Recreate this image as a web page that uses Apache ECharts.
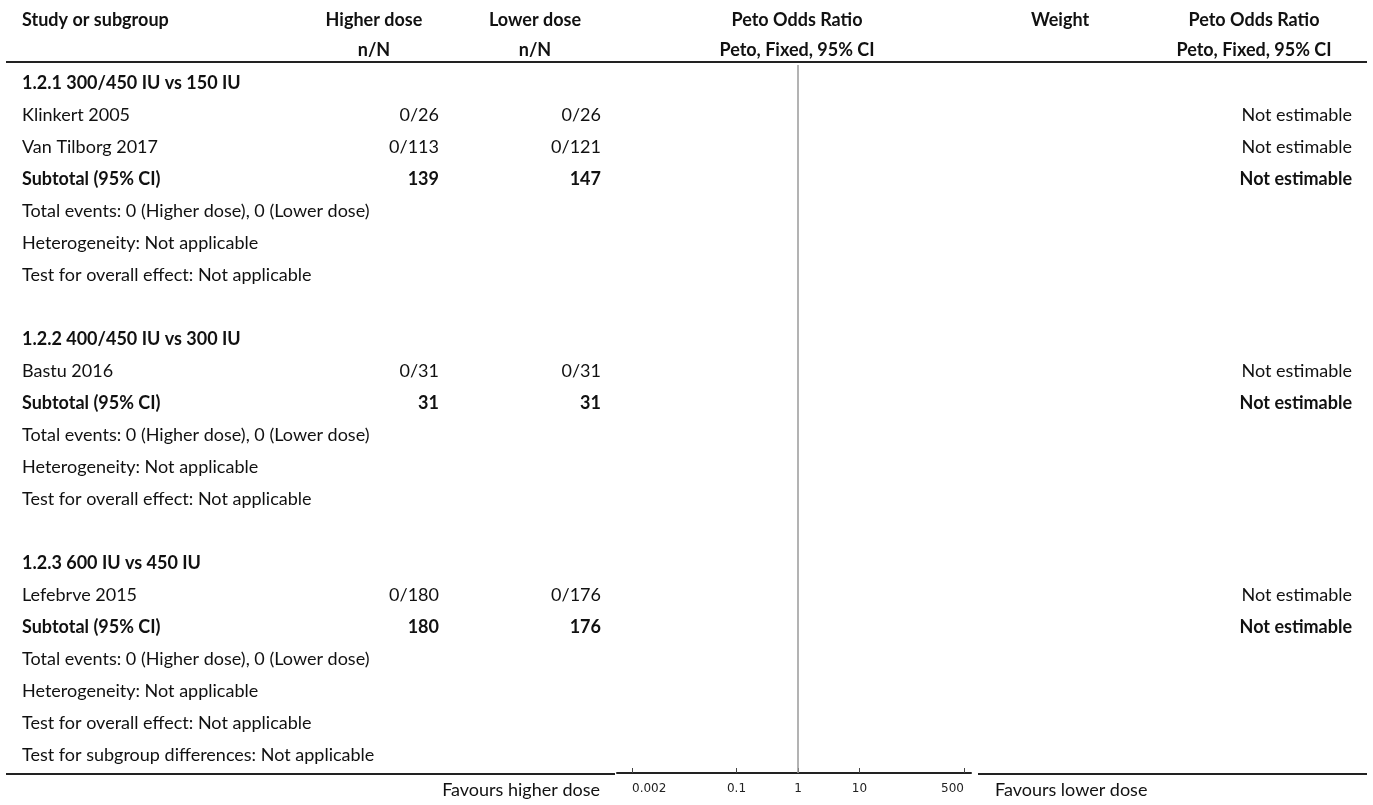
<!DOCTYPE html>
<html>
<head>
<meta charset="utf-8">
<script src="https://cdn.jsdelivr.net/npm/echarts@6/dist/echarts.min.js"></script>
<style>
html,body{margin:0;padding:0;background:#fff;}
#chart{width:1373px;height:805px;}
</style>
</head>
<body>
<div id="chart"></div>
<script>
// ---- data ----
const headerRow1 = ['Study or subgroup', 'Higher dose', 'Lower dose', 'Peto Odds Ratio', 'Weight', 'Peto Odds Ratio'];
const headerRow2 = ['', 'n/N', 'n/N', 'Peto, Fixed, 95% CI', '', 'Peto, Fixed, 95% CI'];
const rowLabels = [
  '1.2.1 300/450 IU vs 150 IU',
  'Klinkert 2005',
  'Van Tilborg 2017',
  'Subtotal (95% CI)',
  'Total events: 0 (Higher dose), 0 (Lower dose)',
  'Heterogeneity: Not applicable',
  'Test for overall effect: Not applicable',
  '',
  '1.2.2 400/450 IU vs 300 IU',
  'Bastu 2016',
  'Subtotal (95% CI)',
  'Total events: 0 (Higher dose), 0 (Lower dose)',
  'Heterogeneity: Not applicable',
  'Test for overall effect: Not applicable',
  '',
  '1.2.3 600 IU vs 450 IU',
  'Lefebrve 2015',
  'Subtotal (95% CI)',
  'Total events: 0 (Higher dose), 0 (Lower dose)',
  'Heterogeneity: Not applicable',
  'Test for overall effect: Not applicable',
  'Test for subgroup differences: Not applicable'
];
const rowBold = [1,0,0,1,0,0,0,0,1,0,1,0,0,0,0,1,0,1,0,0,0,0];
const higherDose = ['','0/26','0/113','139','','','','','','0/31','31','','','','','','0/180','180','','','',''];
const lowerDose  = ['','0/26','0/121','147','','','','','','0/31','31','','','','','','0/176','176','','','',''];
const weights    = ['','','','','','','','','','','','','','','','','','','','','',''];
const effectText = ['','Not estimable','Not estimable','Not estimable','','','','','','Not estimable','Not estimable','','','','','','Not estimable','Not estimable','','','',''];
const tickValues = [0.002, 0.1, 1, 10, 500];
const tickLabels = ['0.002', '0.1', '1', '10', '500'];
const nullEffect = 1;
const favoursLeft = 'Favours higher dose';
const favoursRight = 'Favours lower dose';

// ---- layout ----
const FONT = 'Lato, "Source Sans Pro", sans-serif';
const FS = 18;
const rowTop = 83, rowStep = 32;
const colText = [
  {x: 22, align: 'left'},
  {x: 374, align: 'center'},
  {x: 535, align: 'center'},
  {x: 797, align: 'center'},
  {x: 1060, align: 'center'},
  {x: 1254, align: 'center'}
];
const dataCols = [
  {arr: higherDose, x: 439},
  {arr: lowerDose, x: 601},
  {arr: weights, x: 1105},
  {arr: effectText, x: 1352}
];

function txt(x, y, s, align, bold, size, family) {
  return {
    type: 'text', x: x, y: y, silent: true,
    style: {
      text: s, align: align, verticalAlign: 'middle',
      font: (bold ? 'bold ' : '') + (size || FS) + 'px ' + (family || FONT),
      fill: '#111'
    }
  };
}
function hline(x1, x2, y, w, c) {
  return {type: 'line', silent: true, shape: {x1: x1, y1: y, x2: x2, y2: y}, style: {stroke: c || '#222', lineWidth: w || 2}};
}

const graphics = [];
headerRow1.forEach((s, i) => { if (s) graphics.push(txt(colText[i].x, 20, s, colText[i].align, true)); });
headerRow2.forEach((s, i) => { if (s) graphics.push(txt(colText[i].x, 50, s, colText[i].align, true)); });
graphics.push(hline(6, 1367, 62, 2));
rowLabels.forEach((s, i) => {
  const y = rowTop + rowStep * i;
  if (s) graphics.push(txt(22, y, s, 'left', rowBold[i]));
  dataCols.forEach(c => {
    if (c.arr[i]) graphics.push(txt(c.x, y, c.arr[i], 'right', rowBold[i]));
  });
});
graphics.push(hline(6, 615, 774, 2));
graphics.push(hline(978, 1367, 774, 2));
graphics.push(txt(600, 790, favoursLeft, 'right', false, 18));
graphics.push(txt(995, 790, favoursRight, 'left', false, 18));

const logTicks = tickValues.map(v => Math.log10(v));

const option = {
  animation: false,
  backgroundColor: '#fff',
  grid: {left: 617, right: 1373 - 971, top: 65, bottom: 805 - 773, containLabel: false},
  xAxis: {
    type: 'value',
    min: -2.943, max: 2.813,
    axisLine: {show: true, lineStyle: {color: '#222', width: 2}},
    axisTick: {show: true, inside: true, length: 5, customValues: logTicks, lineStyle: {color: '#444', width: 1}},
    axisLabel: {
      show: true, customValues: logTicks, margin: 10,
      fontFamily: 'DejaVu Sans', fontSize: 12, color: '#222',
      alignMinLabel: 'left', alignMaxLabel: 'right',
      formatter: function (v) {
        let best = 0, bd = Infinity;
        logTicks.forEach((t, i) => { const d = Math.abs(t - v); if (d < bd) { bd = d; best = i; } });
        return tickLabels[best];
      }
    },
    splitLine: {show: false}
  },
  yAxis: {type: 'value', min: 0, max: 1, show: false},
  series: [{
    type: 'line',
    data: [[Math.log10(nullEffect), 0], [Math.log10(nullEffect), 1]],
    symbol: 'none',
    lineStyle: {color: '#9a9a9a', width: 1.5},
    z: 1
  }],
  graphic: graphics
};

const chart = echarts.init(document.getElementById('chart'), null, {renderer: 'canvas'});
chart.setOption(option);
</script>
</body>
</html>
